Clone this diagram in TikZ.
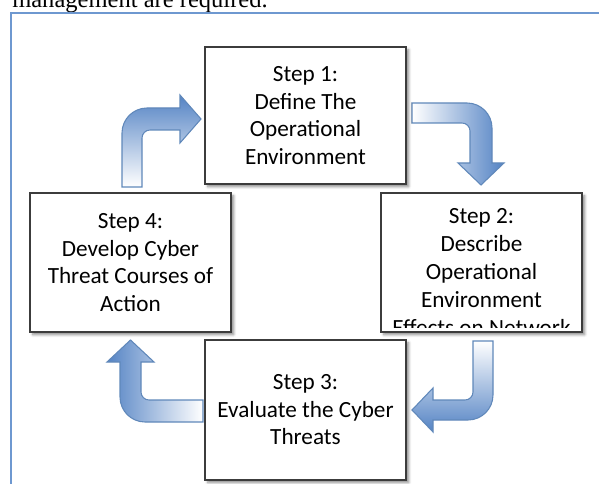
\documentclass[tikz,border=0pt]{standalone}
\usepackage{fontspec}
\setmainfont{Carlito}
\newfontfamily\serifbody{Liberation Serif}
\usetikzlibrary{shadows.blur}

\definecolor{arrowblue}{RGB}{84,131,196}
\definecolor{arrowedge}{RGB}{96,136,186}
\definecolor{framelineblue}{RGB}{110,152,208}
\definecolor{boxedge}{RGB}{60,60,60}

\begin{document}
\begin{tikzpicture}[x=0.75pt,y=-0.75pt,
  stepbox/.style={draw=boxedge, line width=1.3pt, fill=white,
    minimum width=150.75pt, inner sep=0pt, align=center,
    font=\fontsize{17.4}{20.6}\selectfont,
    blur shadow={shadow xshift=2pt, shadow yshift=-2pt,
      shadow blur radius=2pt, shadow opacity=45}},
  steptext/.style={inner sep=0pt, align=center,
    font=\fontsize{17.4}{21}\selectfont},
  bentarrow/.style={draw=arrowedge, line width=0.8pt, line join=miter},
  framestroke/.style={draw=framelineblue, line width=1.6pt},
  introtext/.style={anchor=base west, inner sep=0pt,
    font=\serifbody\fontsize{18.4}{22}\selectfont}
]
\useasboundingbox (0,0) rectangle (599,484);
\clip (0,0) rectangle (599,484);

% running text above the figure frame
\node[introtext] (intro) at (12,8) {management are required.};

% figure frame
\draw[framestroke] (11,484) -- (11,13) -- (599,13);

% curved block arrows, white at the tail, blue at the head
% step 4 -> step 1
\path[bentarrow, top color=arrowblue, bottom color=white]
  (122,187) -- (122,133) arc[start angle=180, end angle=270, radius=25]
  -- (180,108) -- (180,95) -- (201,119) -- (180,143) -- (180,130)
  -- (150,130) arc[start angle=270, end angle=180, radius=8]
  -- (142,187) -- cycle;
% step 1 -> step 2
\path[bentarrow, left color=white, right color=arrowblue]
  (412,103) -- (467,103) arc[start angle=270, end angle=360, radius=25]
  -- (492,163) -- (504,163) -- (481,185) -- (458,163) -- (470,163)
  -- (470,131) arc[start angle=0, end angle=-90, radius=8]
  -- (412,123) -- cycle;
% step 2 -> step 3
\path[bentarrow, top color=white, bottom color=arrowblue]
  (473,341) -- (493,341) -- (493,395) arc[start angle=0, end angle=90, radius=25]
  -- (433,420) -- (433,432) -- (412,410) -- (433,388) -- (433,400)
  -- (465,400) arc[start angle=90, end angle=0, radius=8]
  -- (473,341) -- cycle;
% step 3 -> step 4
\path[bentarrow, left color=arrowblue, right color=white]
  (203,400) -- (203,422) -- (145,422) arc[start angle=90, end angle=180, radius=25]
  -- (120,362) -- (107,362) -- (130.5,340) -- (154,362) -- (141,362)
  -- (141,392) arc[start angle=180, end angle=90, radius=8]
  -- (203,400) -- cycle;

% the four steps
\node[stepbox, minimum height=102.75pt] (s1) at (305.5,115.5)
  {Step 1:\\Define The\\Operational\\Environment};
\node[stepbox, minimum height=104.25pt] (s2) at (481.5,262.5) {};
\node[stepbox, minimum height=104.25pt] (s4) at (130.5,262.5)
  {Step 4:\\Develop Cyber\\Threat Courses of\\Action};
\node[stepbox, minimum height=105pt] (s3) at (305.5,410)
  {Step 3:\\Evaluate the Cyber\\Threats};

% step 2 text overflows its box and is cut at the lower edge
\begin{scope}
  \clip (382,194) rectangle (581,327);
  \node[steptext] (s2text) at (481.5,272)
    {Step 2:\\Describe\\Operational\\Environment\\Effects on Network};
\end{scope}
\end{tikzpicture}
\end{document}
